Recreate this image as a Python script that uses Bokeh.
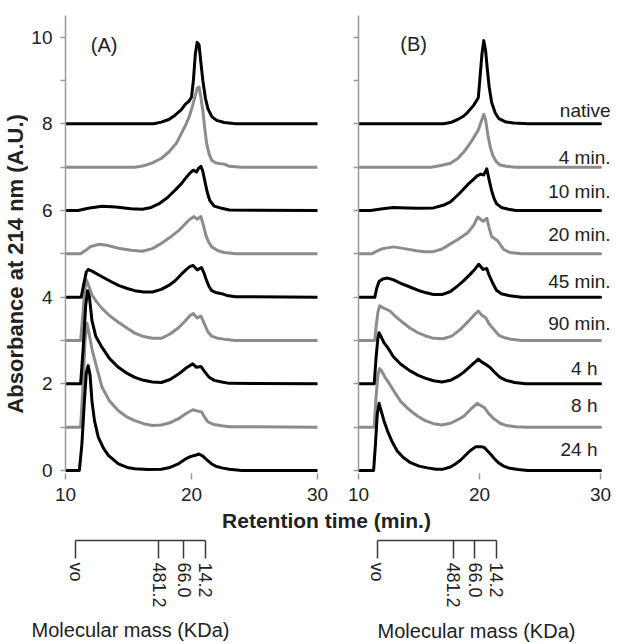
import math
from bokeh.plotting import figure
from bokeh.models import Range1d, FixedTicker, LinearAxis, Label, LabelSet, ColumnDataSource
from bokeh.layouts import column, row
from bokeh.embed import file_html
from bokeh.resources import INLINE
from bokeh.core.properties import value

FONT = "Liberation Sans"
BLACK = "#000000"
GRAY = "#8c8c8c"
AXIS_GRAY = "#9a9a9a"
TEXT = "#222222"

# ---------------- data (retention time, absorbance incl. offset) ----------------
series_labels = ["native", "4 min.", "10 min.", "20 min.", "45 min.", "90 min.", "4 h", "8 h", "24 h"]
series_colors = [BLACK, GRAY, BLACK, GRAY, BLACK, GRAY, BLACK, GRAY, BLACK]
label_heights_B = [8.15, 7.08, 6.28, 5.30, 4.20, 3.24, 2.21, 1.35, 0.34]

A_native = [(10, 8.0), (17.0, 8.0), (17.6, 8.04), (18.2, 8.1), (18.7, 8.2), (19.2, 8.33), (19.5, 8.45), (19.8, 8.52),
            (20.0, 8.62), (20.15, 9.0), (20.3, 9.6), (20.45, 9.88), (20.6, 9.82), (20.75, 9.4), (20.9, 9.0), (21.1, 8.6),
            (21.3, 8.35), (21.6, 8.17), (22.0, 8.08), (22.6, 8.03), (23.5, 8.0), (30, 8.0)]
A_4min = [(10, 7.0), (15.5, 7.0), (16.2, 7.03), (16.9, 7.1), (17.6, 7.2), (18.2, 7.35), (18.8, 7.55), (19.2, 7.78),
          (19.5, 7.95), (19.8, 8.15), (20.05, 8.38), (20.25, 8.6), (20.45, 8.82), (20.6, 8.85), (20.75, 8.6), (20.9, 8.3),
          (21.05, 7.9), (21.2, 7.55), (21.4, 7.3), (21.6, 7.16), (21.9, 7.1), (22.3, 7.08), (22.6, 7.07), (23.0, 7.02),
          (24.0, 7.0), (30, 7.0)]
A_10min = [(10, 6.0), (11.0, 6.0), (11.8, 6.05), (12.9, 6.1), (14.0, 6.08), (15.2, 6.04), (16.1, 6.03), (16.8, 6.07),
           (17.4, 6.15), (18.1, 6.3), (18.7, 6.47), (19.2, 6.62), (19.6, 6.77), (19.9, 6.87), (20.13, 6.93), (20.4, 6.89),
           (20.55, 6.97), (20.75, 7.02), (20.9, 6.9), (21.05, 6.69), (21.25, 6.42), (21.45, 6.23), (21.8, 6.1),
           (22.4, 6.05), (23.0, 6.01), (30, 6.0)]
A_20min = [(10, 5.0), (11.2, 5.0), (11.6, 5.08), (12.0, 5.17), (12.7, 5.22), (13.4, 5.19), (14.2, 5.13), (15.2, 5.08),
           (16.1, 5.06), (16.9, 5.12), (17.6, 5.24), (18.3, 5.38), (19.0, 5.54), (19.4, 5.66), (19.8, 5.78), (20.2, 5.86),
           (20.45, 5.8), (20.75, 5.86), (20.95, 5.65), (21.15, 5.42), (21.35, 5.28), (21.6, 5.16), (22.1, 5.07),
           (22.6, 5.03), (23.5, 5.0), (30, 5.0)]
A_45min = [(10, 4.0), (11.25, 4.0), (11.45, 4.3), (11.65, 4.58), (11.8, 4.64), (12.1, 4.6), (12.9, 4.47), (13.6, 4.36),
           (14.2, 4.27), (14.9, 4.2), (15.5, 4.15), (16.2, 4.12), (16.9, 4.12), (17.6, 4.18), (18.2, 4.27), (18.7, 4.38),
           (19.2, 4.53), (19.6, 4.64), (19.9, 4.71), (20.13, 4.73), (20.45, 4.63), (20.8, 4.68), (21.0, 4.55),
           (21.2, 4.38), (21.4, 4.24), (21.6, 4.15), (22.0, 4.1), (22.4, 4.08), (22.8, 4.04), (23.5, 4.01), (30, 4.0)]
A_90min = [(10, 3.0), (11.2, 3.0), (11.35, 3.5), (11.5, 4.1), (11.65, 4.4), (11.8, 4.3), (12.1, 4.05), (12.5, 3.88),
           (12.9, 3.74), (13.5, 3.57), (14.2, 3.42), (14.9, 3.28), (15.5, 3.17), (16.2, 3.09), (16.9, 3.05), (17.6, 3.05),
           (18.3, 3.15), (19.0, 3.3), (19.5, 3.45), (19.9, 3.58), (20.15, 3.62), (20.45, 3.52), (20.75, 3.56),
           (21.0, 3.4), (21.3, 3.2), (21.6, 3.1), (22.1, 3.05), (22.8, 3.02), (23.5, 3.0), (30, 3.0)]
A_4h = [(10, 2.0), (11.2, 2.0), (11.4, 2.8), (11.6, 3.8), (11.75, 4.15), (11.9, 4.0), (12.1, 3.46), (12.4, 3.1),
        (12.9, 2.84), (13.5, 2.58), (14.2, 2.38), (14.9, 2.24), (15.5, 2.15), (16.2, 2.08), (16.9, 2.04), (17.6, 2.03),
        (18.3, 2.1), (19.0, 2.23), (19.6, 2.37), (20.1, 2.46), (20.4, 2.38), (20.75, 2.4), (21.0, 2.3), (21.4, 2.15),
        (21.8, 2.08), (22.4, 2.04), (23.0, 2.01), (30, 2.0)]
A_8h = [(10, 1.0), (11.2, 1.0), (11.4, 2.0), (11.55, 3.0), (11.7, 3.4), (11.85, 3.2), (12.1, 2.8), (12.4, 2.46),
        (12.9, 1.92), (13.5, 1.6), (14.2, 1.38), (14.9, 1.23), (15.5, 1.15), (16.2, 1.08), (16.9, 1.04), (17.6, 1.05),
        (18.3, 1.1), (19.0, 1.2), (19.6, 1.32), (20.1, 1.4), (20.5, 1.37), (20.8, 1.35), (21.0, 1.25), (21.3, 1.12),
        (21.8, 1.06), (22.4, 1.03), (23.0, 1.01), (30, 1.0)]
A_24h = [(10, 0.0), (11.1, 0.0), (11.3, 0.6), (11.5, 1.6), (11.65, 2.25), (11.8, 2.42), (11.95, 2.2), (12.1, 1.6),
         (12.3, 1.15), (12.6, 0.77), (13.0, 0.52), (13.4, 0.35), (14.2, 0.15), (14.9, 0.07), (15.5, 0.04), (16.5, 0.02),
         (17.6, 0.03), (18.3, 0.07), (19.0, 0.16), (19.5, 0.26), (19.9, 0.32), (20.3, 0.35), (20.6, 0.38), (20.9, 0.33),
         (21.2, 0.25), (21.6, 0.15), (22.0, 0.09), (22.4, 0.06), (23.0, 0.03), (24.0, 0.0), (30, 0.0)]

B_native = [(10, 8.0), (17.0, 8.0), (17.6, 8.03), (18.2, 8.1), (18.7, 8.18), (19.0, 8.26), (19.5, 8.42), (19.9, 8.6),
            (20.05, 9.1), (20.2, 9.6), (20.35, 9.92), (20.5, 9.7), (20.65, 9.25), (20.8, 8.85), (21.0, 8.5), (21.3, 8.25),
            (21.6, 8.12), (22.2, 8.04), (22.8, 8.02), (24.0, 8.0), (30, 8.0)]
B_4min = [(10, 7.0), (16.0, 7.0), (16.8, 7.04), (17.6, 7.09), (18.2, 7.2), (18.7, 7.35), (19.1, 7.5), (19.5, 7.67),
          (19.9, 7.86), (20.1, 8.02), (20.35, 8.22), (20.5, 8.1), (20.7, 7.73), (20.9, 7.45), (21.1, 7.27), (21.4, 7.12),
          (21.7, 7.05), (22.2, 7.02), (23.0, 7.0), (30, 7.0)]
B_10min = [(10, 6.0), (11.0, 6.0), (12.0, 6.04), (12.9, 6.07), (14.0, 6.06), (15.0, 6.05), (16.2, 6.06), (17.0, 6.12),
           (17.6, 6.2), (18.3, 6.38), (19.0, 6.59), (19.5, 6.72), (19.8, 6.8), (20.1, 6.84), (20.35, 6.82), (20.6, 6.96),
           (20.8, 6.7), (21.0, 6.46), (21.2, 6.28), (21.4, 6.16), (21.8, 6.07), (22.4, 6.03), (23.0, 6.0), (30, 6.0)]
B_20min = [(10, 5.0), (11.1, 5.0), (11.5, 5.06), (12.0, 5.12), (12.9, 5.16), (13.8, 5.12), (14.8, 5.07), (15.5, 5.05),
           (16.2, 5.05), (16.9, 5.11), (17.6, 5.23), (18.2, 5.33), (19.0, 5.48), (19.5, 5.65), (19.85, 5.85), (20.3, 5.75),
           (20.6, 5.82), (20.8, 5.6), (21.0, 5.4), (21.5, 5.3), (21.8, 5.18), (22.0, 5.1), (22.5, 5.03), (23.5, 5.0),
           (30, 5.0)]
B_45min = [(10, 4.0), (11.35, 4.0), (11.5, 4.2), (11.7, 4.36), (12.0, 4.42), (12.4, 4.44), (12.9, 4.4), (13.5, 4.32),
           (14.2, 4.24), (14.9, 4.16), (15.6, 4.1), (16.2, 4.06), (16.9, 4.06), (17.6, 4.13), (18.2, 4.26), (18.7, 4.38),
           (19.2, 4.52), (19.6, 4.64), (19.94, 4.76), (20.3, 4.64), (20.6, 4.66), (20.8, 4.5), (21.1, 4.32), (21.4, 4.16),
           (21.8, 4.08), (22.5, 4.03), (23.5, 4.0), (30, 4.0)]
B_90min = [(10, 3.0), (11.35, 3.0), (11.45, 3.3), (11.6, 3.65), (11.75, 3.8), (12.0, 3.76), (12.6, 3.68), (13.0, 3.57),
           (13.5, 3.45), (14.2, 3.3), (14.9, 3.18), (15.5, 3.11), (16.2, 3.05), (17.0, 3.04), (17.7, 3.1), (18.4, 3.25),
           (19.2, 3.48), (19.6, 3.6), (19.9, 3.68), (20.2, 3.58), (20.5, 3.53), (20.8, 3.38), (21.2, 3.25), (21.6, 3.12),
           (22.0, 3.07), (22.6, 3.03), (23.5, 3.0), (30, 3.0)]
B_4h = [(10, 2.0), (11.3, 2.0), (11.45, 2.6), (11.6, 3.05), (11.7, 3.18), (11.85, 3.1), (12.1, 2.95), (12.4, 2.84),
        (12.9, 2.62), (13.5, 2.45), (14.2, 2.31), (14.9, 2.2), (15.5, 2.13), (16.2, 2.07), (16.9, 2.04), (17.6, 2.08),
        (18.2, 2.17), (18.7, 2.27), (19.3, 2.42), (19.9, 2.57), (20.2, 2.5), (20.5, 2.45), (20.9, 2.37), (21.3, 2.25),
        (21.7, 2.15), (22.2, 2.08), (22.9, 2.03), (23.8, 2.0), (30, 2.0)]
B_8h = [(10, 1.0), (11.3, 1.0), (11.45, 1.7), (11.6, 2.2), (11.75, 2.35), (11.9, 2.3), (12.2, 2.15), (12.6, 1.98),
        (13.0, 1.8), (13.5, 1.59), (14.2, 1.4), (14.9, 1.25), (15.5, 1.15), (16.2, 1.08), (16.9, 1.05), (17.6, 1.09),
        (18.2, 1.17), (18.7, 1.25), (19.3, 1.42), (19.8, 1.55), (20.1, 1.5), (20.4, 1.45), (20.8, 1.3), (21.2, 1.19),
        (21.7, 1.09), (22.2, 1.04), (23.0, 1.01), (24.0, 1.0), (30, 1.0)]
B_24h = [(10, 0.0), (11.25, 0.0), (11.4, 0.6), (11.55, 1.3), (11.7, 1.55), (11.85, 1.4), (12.1, 1.15), (12.4, 0.91),
         (12.8, 0.65), (13.2, 0.45), (13.7, 0.3), (14.3, 0.18), (15.0, 0.1), (15.7, 0.06), (16.4, 0.03), (17.0, 0.03),
         (17.6, 0.08), (18.0, 0.15), (18.4, 0.23), (18.8, 0.34), (19.2, 0.45), (19.7, 0.55), (20.1, 0.55), (20.4, 0.53),
         (20.9, 0.38), (21.3, 0.25), (21.6, 0.17), (22.0, 0.1), (22.5, 0.05), (23.2, 0.02), (24.0, 0.0), (30, 0.0)]

panel_A = [A_native, A_4min, A_10min, A_20min, A_45min, A_90min, A_4h, A_8h, A_24h]
panel_B = [B_native, B_4min, B_10min, B_20min, B_45min, B_90min, B_4h, B_8h, B_24h]

y_major_ticks = [0, 2, 4, 6, 8, 10]
y_minor_ticks = [1, 3, 5, 7, 9]
x_ticks = [10, 20, 30]

mass_labels = ["vo", "481.2", "66.0", "14.2"]
mass_time_A = [10.95, 17.5, 19.45, 21.15]
mass_time_B = [11.55, 17.85, 19.6, 21.4]

TOP_H = 509


def bare(width, height, xr, yr, **kw):
    p = figure(width=width, height=height, x_range=xr, y_range=yr, output_backend="svg", toolbar_location=None,
               **kw)
    p.outline_line_color = None
    p.grid.visible = False
    p.background_fill_color = "white"
    p.border_fill_color = "white"
    return p


def style_axes(p, labelled_y=True):
    for ax in p.xaxis:
        ax.ticker = FixedTicker(ticks=x_ticks)
        ax.bounds = (10, 30)
        ax.axis_line_color = None
        ax.major_tick_line_color = AXIS_GRAY
        ax.major_tick_line_width = 1.5
        ax.major_tick_in = 0
        ax.major_tick_out = 6
        ax.minor_tick_line_color = None
        ax.major_label_text_font = FONT
        ax.major_label_text_font_size = "19px"
        ax.major_label_text_color = TEXT
        ax.major_label_standoff = 8
    for ax in p.yaxis:
        if labelled_y:
            ax.ticker = FixedTicker(ticks=y_major_ticks, minor_ticks=y_minor_ticks)
        else:
            ax.ticker = FixedTicker(ticks=y_major_ticks + y_minor_ticks)
            ax.major_label_overrides = {t: "" for t in y_major_ticks + y_minor_ticks}
        ax.bounds = (0, 10.5)
        ax.axis_line_color = AXIS_GRAY
        ax.axis_line_width = 1.5
        ax.major_tick_line_color = AXIS_GRAY
        ax.major_tick_line_width = 1.5
        ax.minor_tick_line_color = AXIS_GRAY
        ax.minor_tick_line_width = 1.5
        ax.major_tick_in = 0
        ax.major_tick_out = 5
        ax.minor_tick_in = 0
        ax.minor_tick_out = 5
        ax.major_label_text_font = FONT
        ax.major_label_text_font_size = "19px"
        ax.major_label_text_color = TEXT
        ax.major_label_standoff = 8


def make_panel(width, left, right, top, frame_h, x_end, data):
    p = bare(width, TOP_H, Range1d(10, x_end), Range1d(-0.07, 10.5),
             min_border_left=left, min_border_right=right, min_border_top=top,
             min_border_bottom=TOP_H - top - frame_h)
    order = [i for i, c in enumerate(series_colors) if c == GRAY] + [i for i, c in enumerate(series_colors) if c == BLACK]
    for i in order:
        pts = data[i]
        p.line([a for a, b in pts], [b for a, b in pts], line_color=series_colors[i], line_width=3,
               line_join="round", line_cap="round")
    return p


# y-axis title strip
yT = bare(28, TOP_H, Range1d(0, 28), Range1d(0, TOP_H), x_axis_type=None, y_axis_type=None,
          min_border_left=0, min_border_right=0, min_border_top=0, min_border_bottom=0)
yT.add_layout(Label(x=15, y=233, text="Absorbance at 214 nm (A.U.)", angle=math.pi / 2, text_font=FONT,
                    text_font_size="22px", text_font_style="bold", text_color=TEXT,
                    text_align="center", text_baseline="middle"))

# Panel A: frame 63..317 px, 15..473 px
pA = make_panel(309, 35, 20, 15, 458, 30, panel_A)
style_axes(pA, labelled_y=True)
pA.add_layout(Label(x=13.07, y=9.83, text="(A)", text_font=FONT, text_font_size="20px", text_color=TEXT,
                    text_align="center", text_baseline="middle"))

# Panel B: frame 358..612 px (t 10..~31), 10..473 px
pB = make_panel(280, 21, 5, 10, 463, 30.99, panel_B)
style_axes(pB, labelled_y=False)
pB.add_layout(Label(x=14.55, y=9.84, text="(B)", text_font=FONT, text_font_size="20px", text_color=TEXT,
                    text_align="center", text_baseline="middle"))
lab_src = ColumnDataSource(dict(
    x=[30] * len(series_labels),
    y=label_heights_B,
    text=series_labels,
    xo=[-3 if s.endswith("h") else 10 for s in series_labels],
))
pB.add_layout(LabelSet(x="x", y="y", text="text", x_offset="xo", source=lab_src, text_align="right",
                       text_baseline="alphabetic", text_font=value(FONT), text_font_size=value("19px"),
                       text_color=TEXT))

# x-axis title row
pT = bare(617, 24, Range1d(0, 617), Range1d(0, 24), x_axis_type=None, y_axis_type=None,
          min_border_left=0, min_border_right=0, min_border_top=0, min_border_bottom=0)
pT.add_layout(Label(x=326, y=13, text="Retention time (min.)", text_font=FONT, text_font_size="21px",
                    text_font_style="bold", text_color=TEXT, text_align="center", text_baseline="middle"))


def make_scale(width, left, right, xr, ticks):
    s = bare(width, 82, xr, Range1d(0, 1), x_axis_type=None, y_axis_type=None,
             min_border_left=left, min_border_right=right, min_border_top=0, min_border_bottom=75)
    ax = LinearAxis(ticker=FixedTicker(ticks=ticks),
                    major_label_overrides={t: l for t, l in zip(ticks, mass_labels)},
                    bounds=(ticks[0], ticks[-1]))
    ax.axis_line_color = "#3a3a3a"
    ax.axis_line_width = 1.5
    ax.major_tick_line_color = "#3a3a3a"
    ax.major_tick_line_width = 1.5
    ax.major_tick_in = 0
    ax.major_tick_out = 18
    ax.minor_tick_line_color = None
    ax.major_label_orientation = "vertical"
    ax.major_label_standoff = 4
    ax.major_label_text_font = FONT
    ax.major_label_text_font_size = "18px"
    ax.major_label_text_color = TEXT
    s.add_layout(ax, "below")
    return s


sA = make_scale(337, 63, 20, pA.x_range, mass_time_A)
sB = make_scale(280, 21, 5, pB.x_range, mass_time_B)

# molecular-mass titles row
pM = bare(617, 29, Range1d(0, 617), Range1d(0, 29), x_axis_type=None, y_axis_type=None,
          min_border_left=0, min_border_right=0, min_border_top=0, min_border_bottom=0)
pM.add_layout(Label(x=130, y=15, text="Molecular mass (KDa)", text_font=FONT, text_font_size="20px",
                    text_color=TEXT, text_align="center", text_baseline="middle"))
pM.add_layout(Label(x=476, y=14, text="Molecular mass (KDa)", text_font=FONT, text_font_size="20px",
                    text_color=TEXT, text_align="center", text_baseline="middle"))

layout = column(row(yT, pA, pB), pT, row(sA, sB), pM)
open("out.html", "w").write(file_html(layout, INLINE))
